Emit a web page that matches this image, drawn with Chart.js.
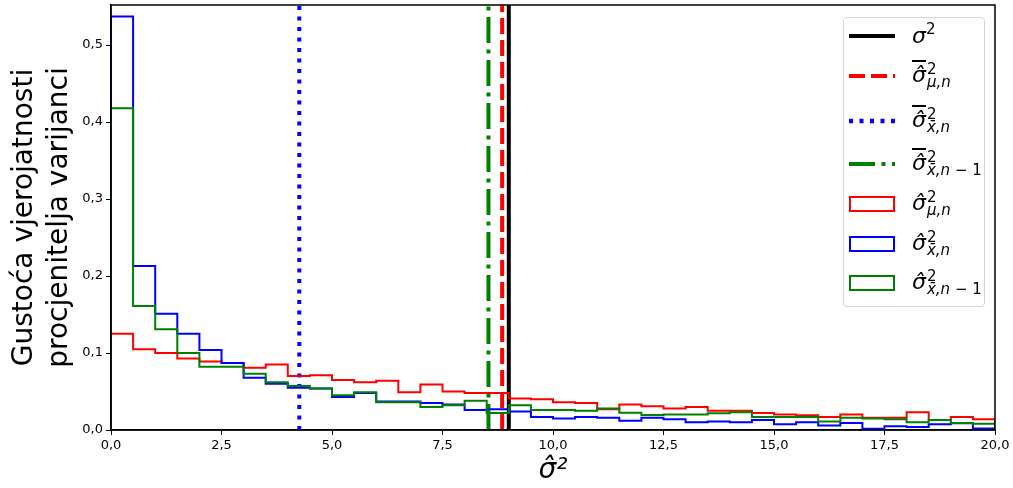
<!DOCTYPE html>
<html>
<head>
<meta charset="utf-8">
<script src="https://cdn.jsdelivr.net/npm/chart.js@4.4.1/dist/chart.umd.min.js"></script>
<style>
  body { margin: 0; background: #fff; }
  #wrap { position: relative; width: 1013px; height: 488px; }
  .legend {
    position: absolute; left: 843px; top: 17px; width: 140px; height: 288px;
    border: 1px solid #d6d6d6; border-radius: 4px; background: rgba(255,255,255,0.85);
  }
  .row { position: absolute; left: 5px; height: 40px; display: flex; align-items: center; }
  .row svg { flex: none; }
  .m { font-family: 'DejaVu Sans'; font-style: italic; font-size: 22px; line-height: 22px; color: #000; margin-left: 17px; white-space: nowrap; }
  .m sup { font-size: 15px; font-style: normal; vertical-align: 9px; line-height: 0; }
  .ov { text-decoration: overline; text-decoration-thickness: 1.5px; }
  .ss { display: inline-flex; flex-direction: column; font-size: 15px; line-height: 13px; vertical-align: middle; margin-left: 1px; }
  .ss .up { font-style: normal; }
  .up2 { font-style: normal; }
</style>
</head>
<body>
<div id="wrap">
  <canvas id="histChart" width="1013" height="488"></canvas>
  <div class="legend">
    <div class="row" style="top:-2px">
      <svg width="46" height="20"><line x1="0" y1="10" x2="46" y2="10" stroke="#000" stroke-width="4"/></svg>
      <span class="m">σ<sup>2</sup></span>
    </div>
    <div class="row" style="top:38px">
      <svg width="46" height="20"><line x1="0" y1="10" x2="46" y2="10" stroke="#ff0000" stroke-width="4" stroke-dasharray="16 6"/></svg>
      <span class="m"><span class="ov">σ̂</span><span class="ss"><span class="up">2</span><span>μ,n</span></span></span>
    </div>
    <div class="row" style="top:83px">
      <svg width="46" height="20"><line x1="0" y1="10" x2="46" y2="10" stroke="#0000ff" stroke-width="4.5" stroke-dasharray="4 6.5"/></svg>
      <span class="m"><span class="ov">σ̂</span><span class="ss"><span class="up">2</span><span>x̄,n</span></span></span>
    </div>
    <div class="row" style="top:126px">
      <svg width="46" height="20"><line x1="0" y1="10" x2="46" y2="10" stroke="#008000" stroke-width="4" stroke-dasharray="26 6.5 4 6.5"/></svg>
      <span class="m"><span class="ov">σ̂</span><span class="ss"><span class="up">2</span><span>x̄,n <span class="up2">− 1</span></span></span></span>
    </div>
    <div class="row" style="top:166px">
      <svg width="46" height="20"><rect x="1" y="3" width="44" height="14" fill="#fff" stroke="#ff0000" stroke-width="2"/></svg>
      <span class="m">σ̂<span class="ss"><span class="up">2</span><span>μ,n</span></span></span>
    </div>
    <div class="row" style="top:206px">
      <svg width="46" height="20"><rect x="1" y="3" width="44" height="14" fill="#fff" stroke="#0000ff" stroke-width="2"/></svg>
      <span class="m">σ̂<span class="ss"><span class="up">2</span><span>x̄,n</span></span></span>
    </div>
    <div class="row" style="top:245px">
      <svg width="46" height="20"><rect x="1" y="3" width="44" height="14" fill="#fff" stroke="#008000" stroke-width="2"/></svg>
      <span class="m">σ̂<span class="ss"><span class="up">2</span><span>x̄,n <span class="up2">− 1</span></span></span></span>
    </div>
  </div>
</div>
<script>
// histogram bins: left edges (width 0.5) and right end of the last bin
const binEdges = [0, 0.5, 1, 1.5, 2, 2.5, 3, 3.5, 4, 4.5, 5, 5.5, 6, 6.5, 7, 7.5, 8, 8.5, 9, 9.5,
                  10, 10.5, 11, 11.5, 12, 12.5, 13, 13.5, 14, 14.5, 15, 15.5, 16, 16.5, 17, 17.5, 18, 18.5, 19, 19.5];
const binEnd = 20;

// densities
const densityMu = [0.125, 0.105, 0.100, 0.093, 0.089, 0.087, 0.081, 0.085, 0.070, 0.071,
                   0.065, 0.062, 0.064, 0.049, 0.059, 0.050, 0.048, 0.048, 0.041, 0.040,
                   0.036, 0.035, 0.027, 0.033, 0.031, 0.028, 0.030, 0.025, 0.025, 0.022,
                   0.020, 0.019, 0.017, 0.020, 0.016, 0.016, 0.023, 0.013, 0.017, 0.014];
const densityX = [0.537, 0.213, 0.151, 0.125, 0.104, 0.087, 0.068, 0.060, 0.055, 0.054,
                  0.043, 0.048, 0.037, 0.037, 0.035, 0.033, 0.026, 0.027, 0.024, 0.017,
                  0.015, 0.017, 0.016, 0.012, 0.016, 0.014, 0.010, 0.011, 0.010, 0.013,
                  0.0076, 0.010, 0.006, 0.009, 0.0015, 0.005, 0.004, 0.0076, 0.0087, 0.002];
const densityX1 = [0.418, 0.161, 0.131, 0.100, 0.082, 0.082, 0.073, 0.062, 0.057, 0.054,
                   0.045, 0.049, 0.036, 0.036, 0.030, 0.032, 0.038, 0.022, 0.032, 0.026,
                   0.026, 0.025, 0.028, 0.0225, 0.0195, 0.020, 0.020, 0.0216, 0.023, 0.017,
                   0.017, 0.017, 0.011, 0.016, 0.015, 0.014, 0.010, 0.013, 0.009, 0.008];

// vertical reference lines
const sigma2 = 9.0;
const meanMu = 8.85;
const meanX = 4.26;
const meanX1 = 8.54;

const xTicks = [0, 2.5, 5, 7.5, 10, 12.5, 15, 17.5, 20];
const yTicks = [0, 0.1, 0.2, 0.3, 0.4, 0.5];
const yMax = 0.552;

// outline of a step histogram: up from 0, one step per bin, back down at the end
const stepPoints = values => [
  { x: binEdges[0], y: 0 },
  { x: binEdges[0], y: values[0] },
  ...values.slice(1).map((v, i) => ({ x: binEdges[i + 1], y: v })),
  { x: binEnd, y: values[values.length - 1] },
  { x: binEnd, y: 0 },
];

const vLine = (x, color, dash, order) => ({
  data: [{ x: x, y: 0 }, { x: x, y: yMax }],
  borderColor: color,
  borderWidth: 4,
  borderDash: dash,
  pointRadius: 0,
  fill: false,
  order: order,
});

const histLine = (values, color, order) => ({
  data: stepPoints(values),
  stepped: 'before',
  borderColor: color,
  borderWidth: 2,
  pointRadius: 0,
  fill: false,
  order: order,
});

const comma = v => v.toFixed(1).replace('.', ',');

const framePlugin = {
  id: 'frame',
  afterDatasetsDraw(chart) {
    const { ctx, chartArea: a } = chart;
    ctx.save();
    ctx.strokeStyle = '#000';
    ctx.lineWidth = 1.5;
    ctx.strokeRect(a.left, a.top, a.right - a.left, a.bottom - a.top);
    ctx.restore();
  }
};

const tickFont = { family: 'DejaVu Sans', size: 13 };

const ctx = document.getElementById('histChart').getContext('2d');
new Chart(ctx, {
  type: 'line',
  data: {
    datasets: [
      histLine(densityX1, '#008000', 0),
      histLine(densityX, '#0000ff', 1),
      histLine(densityMu, '#ff0000', 2),
      vLine(meanX1, '#008000', [26, 6.5, 4, 6.5], 3),
      vLine(meanX, '#0000ff', [4, 6.5], 4),
      vLine(meanMu, '#ff0000', [16, 6], 5),
      vLine(sigma2, '#000000', [], 6),
    ],
  },
  options: {
    responsive: false,
    animation: false,
    layout: { padding: { top: 5, right: 18, left: 0, bottom: 0 } },
    plugins: { legend: { display: false }, tooltip: { enabled: false } },
    scales: {
      x: {
        type: 'linear',
        min: 0,
        max: binEnd,
        afterBuildTicks: s => { s.ticks = xTicks.map(v => ({ value: v })); },
        afterFit: s => { s.height = 58; s.paddingLeft = 0; s.paddingRight = 0; },
        ticks: { callback: v => comma(v), font: tickFont, color: '#000', padding: 3, maxRotation: 0, autoSkip: false },
        grid: { drawOnChartArea: false, tickLength: 5, color: '#000' },
        border: { color: '#000', width: 1.5 },
        title: {
          display: true,
          text: 'σ̂²',
          color: '#000',
          font: { family: 'DejaVu Sans', size: 28, style: 'italic', lineHeight: 1.2 },
          padding: { top: 0, bottom: 0 },
        },
      },
      y: {
        min: 0,
        max: yMax,
        afterBuildTicks: s => { s.ticks = yTicks.map(v => ({ value: v })); },
        afterFit: s => { s.width = 111; s.paddingTop = 0; s.paddingBottom = 0; },
        ticks: { callback: v => comma(v), font: tickFont, color: '#000', padding: 3 },
        grid: { drawOnChartArea: false, tickLength: 5, color: '#000' },
        border: { color: '#000', width: 1.5 },
        title: {
          display: true,
          text: ['Gustoća vjerojatnosti', 'procjenitelja varijanci'],
          color: '#000',
          font: { family: 'DejaVu Sans', size: 28, lineHeight: 1.25 },
          padding: { top: 7, bottom: 0 },
        },
      },
    },
  },
  plugins: [framePlugin],
});
</script>
</body>
</html>
